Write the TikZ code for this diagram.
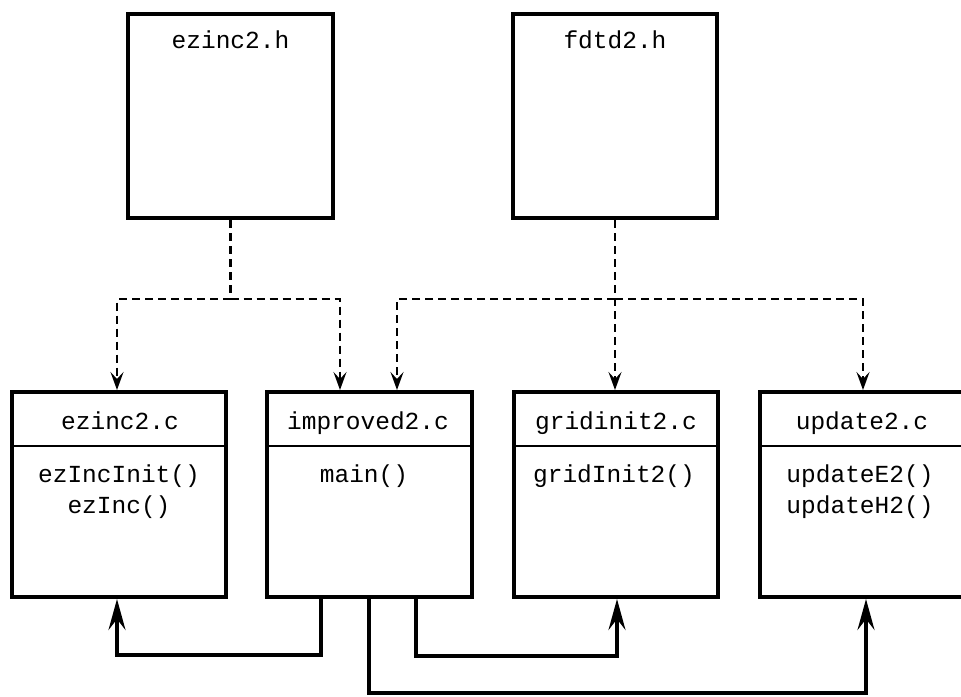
\documentclass[tikz,border=0pt]{standalone}
\usepackage{fontspec}
\setmonofont{Liberation Mono}
\usetikzlibrary{arrows.meta}
\begin{document}
\begin{tikzpicture}[x=1pt,y=-1pt,
  box/.style={draw, line width=4pt, inner sep=0pt, outer sep=2pt, minimum width=#1, minimum height=205pt},
  box/.default=205pt,
  lbl/.style={font=\ttfamily\fontsize{24.5}{31}\selectfont, anchor=base, inner sep=0pt},
  sepline/.style={line width=1.5pt},
  dep/.style={line width=2.2pt, dash pattern=on 8pt off 5pt, -{Stealth[length=18pt,width=13pt,inset=7pt]}},
  depplain/.style={line width=2.2pt, dash pattern=on 8pt off 5pt},
  call/.style={line width=3.5pt, -{Stealth[length=31pt,width=17pt,inset=11pt]}}
]
\useasboundingbox (0,0) rectangle (961,696);
\clip (0,0) rectangle (961,696);

% header files
\node[box, minimum height=204pt] (eh) at (230.5,116) {};
\node[box=204pt, minimum height=204pt] (fh) at (615,116) {};
\node[lbl] (ehT) at (230.5,48) {ezinc2.h};
\node[lbl] (fhT) at (615,48) {fdtd2.h};

% source files
\node[box=214pt] (ec) at (119,494.5) {};
\node[box] (ip) at (369.5,494.5) {};
\node[box=204pt] (gi) at (616,494.5) {};
\node[box] (up) at (862.5,494.5) {};

\foreach \n in {ec,ip,gi,up}{
  \draw[sepline] (\n.west |- 0,446) -- (\n.east |- 0,446);
}

\node[lbl] (ecT) at (120,429) {ezinc2.c};
\node[lbl] (ec1) at (119,482) {ezIncInit()};
\node[lbl] (ec2) at (119,513) {ezInc()};

\node[lbl] (ipT) at (368,429) {improved2.c};
\node[lbl] (ip1) at (364,482) {main()};

\node[lbl] (giT) at (616,429) {gridinit2.c};
\node[lbl] (gi1) at (614,482) {gridInit2()};

\node[lbl] (upT) at (862,429) {update2.c};
\node[lbl] (up1) at (860,482) {updateE2()};
\node[lbl] (up2) at (860,513) {updateH2()};

% dependency (include) connectors
\coordinate (ej) at (230.5,299);
\coordinate (fj) at (615,299);
\draw[depplain] (eh.south) -- (ej);
\draw[dep] (ej) -| (ec.north -| 117,0);
\draw[dep] (ej) -| (ip.north -| 340,0);
\draw[dep] (fh.south) -- (gi.north -| 615,0);
\draw[dep] (fj) -| (ip.north -| 397,0);
\draw[dep] (fj) -| (up.north -| 863,0);

% call connectors
\coordinate (c1) at (117,655);
\coordinate (c2) at (617,656);
\coordinate (c3) at (866,693);
\draw[call] (ip.south -| 321,0) |- (c1) -- (ec.south -| c1);
\draw[call] (ip.south -| 416,0) |- (c2) -- (gi.south -| c2);
\draw[call] (ip.south -| 369,0) |- (c3) -- (up.south -| c3);
\end{tikzpicture}
\end{document}
